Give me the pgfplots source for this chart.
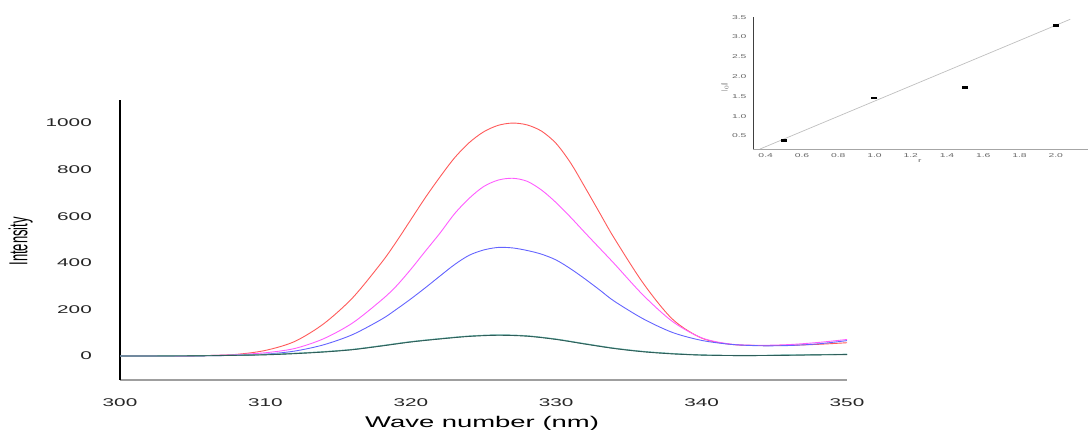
\documentclass[border=0pt]{standalone}
\usepackage{pgfplots}
\pgfplotsset{compat=1.18}
\usepackage{fontspec}
\setmainfont{Liberation Sans}
\newfontfamily\widef[FakeStretch=1.85]{Liberation Sans}
\newfontfamily\wavef[FakeStretch=1.77]{Liberation Sans}
\newfontfamily\narrowf[FakeStretch=0.5]{Liberation Sans}
\definecolor{cred}{HTML}{FF5A5A}
\definecolor{cmag}{HTML}{FF5CFF}
\definecolor{cblue}{HTML}{6464FF}
\definecolor{cdark}{HTML}{2E5E5A}
\definecolor{ccyan}{HTML}{9AD6D6}
\definecolor{cgreen}{HTML}{5E9E8E}
\begin{document}
\begin{tikzpicture}
\path[use as bounding box] (0pt,0pt) rectangle (1089pt,430pt);
% main axis
\begin{axis}[
  at={(120pt,50pt)}, anchor=south west,
  scale only axis, width=727pt, height=280pt,
  xmin=300, xmax=350, ymin=-103, ymax=1099,
  axis x line*=bottom, axis y line*=left,
  axis line style={-},
  x axis line style={draw=gray!75, line width=1.5pt},
  y axis line style={draw=black, line width=1.5pt},
  major tick length=0pt,
  xtick={300,310,...,350}, ytick={0,200,...,1000},
  /pgf/number format/assume math mode=true,
  /pgf/number format/1000 sep={},
  xticklabel style={font=\fontsize{11.2}{12}\selectfont\widef, text=black!85, inner sep=0pt, anchor=base, yshift=-27pt},
  yticklabel style={font=\fontsize{11.2}{12}\selectfont\widef, text=black!85, inner sep=0pt, anchor=east, xshift=-28pt},
  xlabel={Wave number (nm)},
  ylabel={Intensity},
  every axis x label/.style={at={(axis description cs:0.498,-0.157)}, anchor=center, font=\fontsize{15.5}{16}\selectfont\wavef},
  every axis y label/.style={at={(axis description cs:-0.1365,0.495)}, anchor=center, rotate=90, font=\fontsize{26}{27}\selectfont\narrowf},
  every axis plot/.append style={line width=0.9pt, smooth, no markers},
]
\addplot[cred] coordinates {
(300,0) (302,0) (304,0) (306,2) (308,7) (310,24) (312,62) (314,138) (316,250)
(318,402) (319,490) (320,585) (321,680) (322,768) (323,850) (324,915) (325,962)
(326,990) (327,1000) (328,992) (329,965) (330,912) (331,828) (332,722)
(333,613) (334,505) (336,311) (338,158) (340,77) (342,50)
(344,45) (346,46) (348,50) (350,57)};
\addplot[cmag] coordinates {
(300,0) (302,0) (304,0) (306,2) (308,6) (310,14) (312,32) (314,74) (316,142)
(318,241) (319,300) (320,372) (321,450) (322,527) (323,610) (324,676) (325,727)
(326,755) (327,763) (328,750) (329,712) (330,658) (331,595) (332,528)
(333,462) (334,396) (336,260) (338,148) (340,78) (342,51)
(344,46) (346,49) (348,58) (350,71)};
\addplot[cblue] coordinates {
(300,0) (302,0) (304,0) (306,1) (308,3) (310,8) (312,21) (314,48) (316,92)
(318,158) (319,200) (320,245) (321,293) (322,343) (323,392) (324,432) (325,455)
(326,466) (327,464) (328,453) (329,437) (330,412) (331,374) (332,330)
(333,283) (334,235) (336,159) (338,101) (340,67) (342,50)
(344,44) (346,45) (348,52) (350,66)};
\addplot[ccyan] coordinates {
(300,0) (302,0) (304,1) (306,2) (308,4) (310,7) (312,12) (314,19) (316,29)
(318,45) (320,62) (322,75) (324,86) (326,91) (328,87) (330,73) (332,53)
(334,34) (336,20) (338,11) (340,5) (342,3) (344,3) (346,5) (348,6) (350,8)};
\addplot[cgreen] coordinates {
(300,0) (302,0) (304,1) (306,2) (308,3) (310,6) (312,11) (314,18) (316,28)
(318,44) (320,61) (322,74) (324,85) (326,90) (328,86) (330,72) (332,52)
(334,33) (336,19) (338,10) (340,4) (342,2) (344,2) (346,4) (348,5) (350,7)};
\addplot[cdark] coordinates {
(300,0) (302,0) (304,0) (306,1) (308,3) (310,5) (312,10) (314,17) (316,27)
(318,43) (320,60) (322,73) (324,84) (326,89) (328,85) (330,71) (332,51)
(334,32) (336,18) (338,9) (340,4) (342,2) (344,2) (346,3) (348,5) (350,6)};
\end{axis}
% inset
\begin{axis}[
  at={(753pt,281pt)}, anchor=south west,
  scale only axis, width=335pt, height=131.7pt,
  xmin=0.33, xmax=2.178, ymin=0.17, ymax=3.5,
  axis x line*=bottom, axis y line*=left,
  axis line style={-},
  x axis line style={draw=gray!70, line width=0.9pt},
  y axis line style={draw=black!75, line width=0.9pt},
  major tick length=0pt,
  xtick={0.4,0.6,...,2.01}, ytick={0.5,1.0,...,3.51},
  /pgf/number format/assume math mode=true,
  /pgf/number format/.cd, fixed, fixed zerofill, precision=1, /pgfplots/.cd,
  xticklabel style={font=\fontsize{5.6}{6}\selectfont\widef, text=black!60, inner sep=0pt, anchor=base, yshift=-8.3pt},
  yticklabel style={font=\fontsize{5.6}{6}\selectfont\widef, text=black!60, inner sep=0pt, anchor=east, xshift=-6.3pt},
  xlabel={r}, ylabel={I$_0$/I},
  every axis x label/.style={at={(axis description cs:0.498,-0.09)}, anchor=center, font=\fontsize{5.5}{6}\selectfont\widef, text=black!60},
  every axis y label/.style={at={(axis description cs:-0.084,0.47)}, anchor=center, rotate=90, font=\fontsize{9}{9}\selectfont\narrowf, text=black!60},
]
\addplot[black!25, line width=0.7pt] coordinates {(0.369,0.17) (2.08,3.45)};
\addplot[only marks, mark=-, mark size=3pt, mark options={line width=2.6pt, black}] coordinates {
(0.5,0.38) (1.0,1.46) (1.5,1.72) (2.0,3.29)};
\end{axis}
\end{tikzpicture}
\end{document}
